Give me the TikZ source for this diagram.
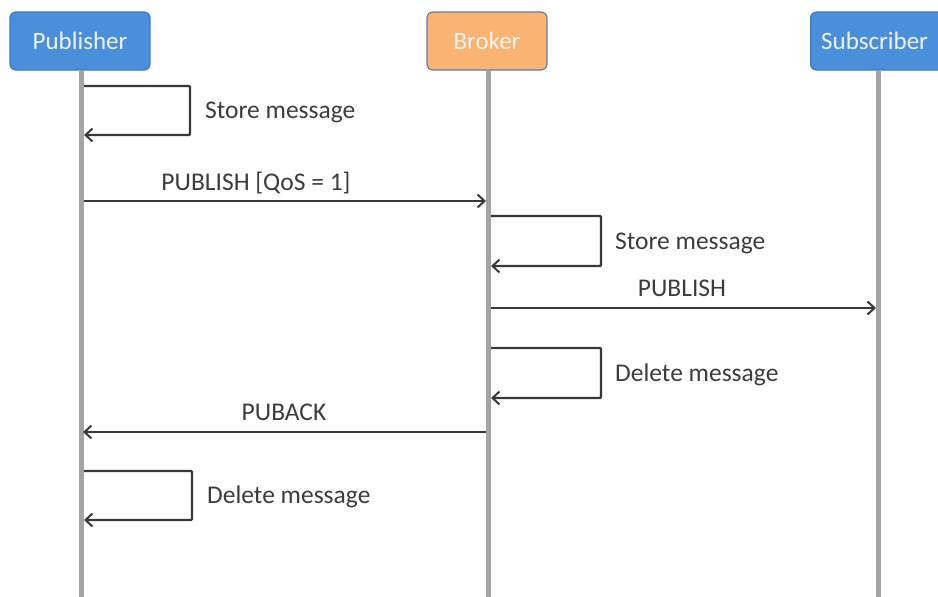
\documentclass[tikz,border=0pt]{standalone}
\usepackage{fontspec}
\setmainfont{Carlito}
\usetikzlibrary{arrows.meta}
\definecolor{pubblue}{HTML}{4A8FDC}
\definecolor{pubborder}{HTML}{3F78BE}
\definecolor{brokorange}{HTML}{F9B373}
\definecolor{brokborder}{HTML}{5D7EA8}
\definecolor{lifegray}{HTML}{A3A3A8}
\definecolor{msggray}{HTML}{383838}
\definecolor{txtgray}{HTML}{3C3C3C}
\tikzset{
  actor/.style={rounded corners=6pt, line width=1.2pt, minimum height=58pt, text=white!90!gray, font=\fontsize{25}{28}\selectfont, inner sep=0pt},
  lifeline/.style={draw=lifegray, line width=5pt},
  msg/.style={draw=msggray, line width=2.3pt, -{Straight Barb[length=7pt,width=13pt,line width=2pt]}},
  lbl/.style={text=txtgray, font=\fontsize{25.5}{28}\selectfont, inner sep=0pt},
}
\begin{document}
\begin{tikzpicture}[x=1pt,y=-1pt]
\useasboundingbox (0,0) rectangle (938,597);
% actors
\node[actor, fill=pubblue, draw=pubborder, minimum width=140pt] (pub) at (80,41) {Publisher};
\node[actor, fill=brokorange, draw=brokborder, minimum width=120pt] (brk) at (487,41) {Broker};
\node[actor, fill=pubblue, draw=pubborder, minimum width=140pt, anchor=west] (sub) at (810,41) {\hspace*{-12pt}Subscriber};
% lifeline ends
\coordinate (pubEnd) at (81,597);
\coordinate (brkEnd) at (488,597);
\coordinate (subEnd) at (878,597);
\draw[lifeline] (pub.south -| pubEnd) -- (pubEnd);
\draw[lifeline] (brk.south -| brkEnd) -- (brkEnd);
\draw[lifeline] (sub.south -| subEnd) -- (subEnd);
% 1 publisher store
\coordinate (a1) at (84,86);
\coordinate (a2) at (190,86);
\coordinate (a3) at (190,135);
\coordinate (a4) at (84,135);
\draw[msg, rounded corners=1pt] (a1) -- (a2) -- (a3) -- (a4);
\node[lbl, anchor=west] (l1) at (205,112) {Store message};
% 2 publish qos1
\coordinate (p1s) at (84,201);
\coordinate (p1e) at (486,201);
\draw[msg] (p1s) -- (p1e);
\node[lbl] (l2) at (256,183) {PUBLISH [QoS = 1]};
% 3 broker store
\coordinate (b1) at (491,216);
\coordinate (b2) at (601,216);
\coordinate (b3) at (601,266);
\coordinate (b4) at (491,266);
\draw[msg, rounded corners=1pt] (b1) -- (b2) -- (b3) -- (b4);
\node[lbl, anchor=west] (l3) at (615,243) {Store message};
% 4 publish
\coordinate (p2s) at (491,308);
\coordinate (p2e) at (876,308);
\draw[msg] (p2s) -- (p2e);
\node[lbl] (l4) at (682,288) {PUBLISH};
% 5 broker delete
\coordinate (c1) at (491,348);
\coordinate (c2) at (601,348);
\coordinate (c3) at (601,398);
\coordinate (c4) at (491,398);
\draw[msg, rounded corners=1pt] (c1) -- (c2) -- (c3) -- (c4);
\node[lbl, anchor=west] (l5) at (615,375) {Delete message};
% 6 puback
\coordinate (p3s) at (486,432);
\coordinate (p3e) at (83,432);
\draw[msg] (p3s) -- (p3e);
\node[lbl] (l6) at (284,412) {PUBACK};
% 7 publisher delete
\coordinate (d1) at (84,471);
\coordinate (d2) at (192,471);
\coordinate (d3) at (192,520);
\coordinate (d4) at (84,520);
\draw[msg, rounded corners=1pt] (d1) -- (d2) -- (d3) -- (d4);
\node[lbl, anchor=west] (l7) at (207,497) {Delete message};
\end{tikzpicture}
\end{document}
